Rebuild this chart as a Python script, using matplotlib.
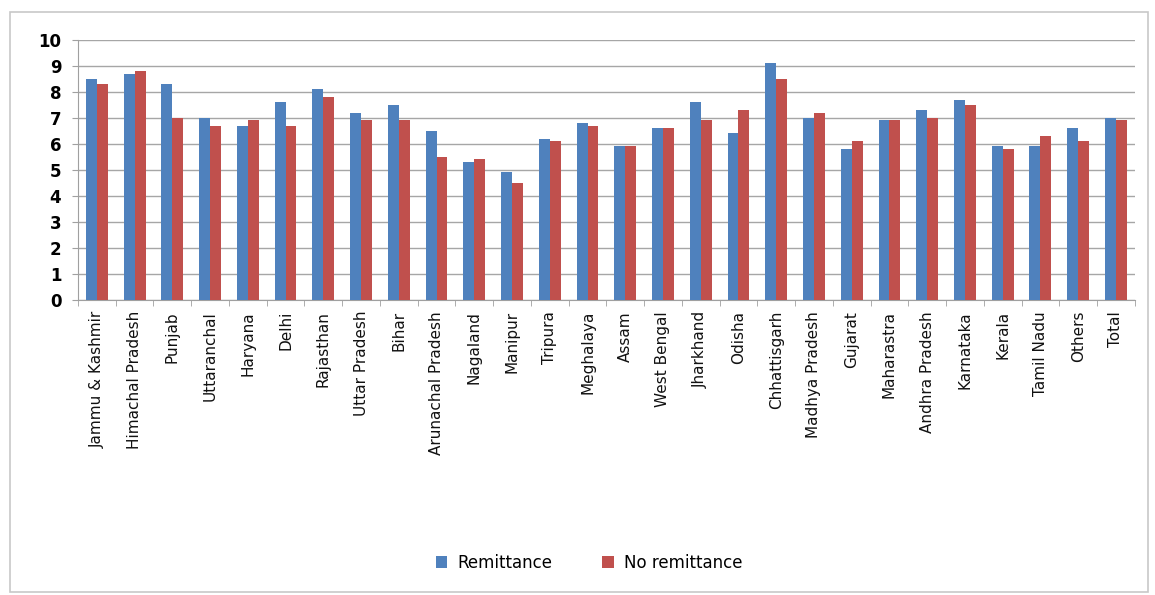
import numpy as np
import matplotlib
matplotlib.use("Agg")
from matplotlib import pyplot as plt
from matplotlib.patches import Rectangle

states = ["Jammu & Kashmir", "Himachal Pradesh", "Punjab", "Uttaranchal", "Haryana",
          "Delhi", "Rajasthan", "Uttar Pradesh", "Bihar", "Arunachal Pradesh",
          "Nagaland", "Manipur", "Tripura", "Meghalaya", "Assam", "West Bengal",
          "Jharkhand", "Odisha", "Chhattisgarh", "Madhya Pradesh", "Gujarat",
          "Maharastra", "Andhra Pradesh", "Karnataka", "Kerala", "Tamil Nadu",
          "Others", "Total"]

remittance = [8.5, 8.7, 8.3, 7.0, 6.7, 7.6, 8.1, 7.2, 7.5, 6.5,
              5.3, 4.9, 6.2, 6.8, 5.9, 6.6, 7.6, 6.4, 9.1, 7.0,
              5.8, 6.9, 7.3, 7.7, 5.9, 5.9, 6.6, 7.0]
no_remittance = [8.3, 8.8, 7.0, 6.7, 6.9, 6.7, 7.8, 6.9, 6.9, 5.5,
                 5.4, 4.5, 6.1, 6.7, 5.9, 6.6, 6.9, 7.3, 8.5, 7.2,
                 6.1, 6.9, 7.0, 7.5, 5.8, 6.3, 6.1, 6.9]

yticks = list(range(0, 11))

plt.rcParams['font.family'] = ['DejaVu Sans']

fig = plt.figure(figsize=(11.55, 5.95), dpi=100)
# light frame around the whole chart, like the spreadsheet chart area
fig.patches.append(Rectangle((0.009, 0.005), 0.985, 0.975, transform=fig.transFigure,
                             fill=False, edgecolor="#c8c8c8", linewidth=1.2))

ax = fig.add_axes([0.0675, 0.496, 0.915, 0.437])

x = np.arange(len(states))
w = 0.29
ax.bar(x - w / 2, remittance, w, color="#4F81BD", label="Remittance", zorder=3)
ax.bar(x + w / 2, no_remittance, w, color="#C0504D", label="No remittance", zorder=3)

ax.set_xlim(-0.5, len(states) - 0.5)
ax.set_ylim(0, 10)
ax.set_yticks(yticks)
ax.set_yticklabels([str(t) for t in yticks], fontsize=12, fontweight="bold")
ax.set_xticks(x)
ax.set_xticklabels(states, rotation=90, fontsize=11, color="#111111")
ax.set_xticks(np.arange(-0.5, len(states), 1), minor=True)
ax.tick_params(axis="x", which="major", length=0, pad=8)
ax.tick_params(axis="x", which="minor", length=4, color="#a0a0a0")
ax.tick_params(axis="y", length=4, color="#a0a0a0", pad=8)

ax.grid(axis="y", color="#a6a6a6", linewidth=1.0, zorder=0)
for s in ["top", "right"]:
    ax.spines[s].set_visible(False)
ax.spines["left"].set_color("#a0a0a0")
ax.spines["bottom"].set_color("#a0a0a0")

fig.legend(loc="center", bbox_to_anchor=(0.51, 0.054), ncol=2, frameon=False,
           fontsize=12, handlelength=0.7, handleheight=0.7, columnspacing=3,
           handletextpad=0.6)

fig.savefig("out.png", dpi=100)
